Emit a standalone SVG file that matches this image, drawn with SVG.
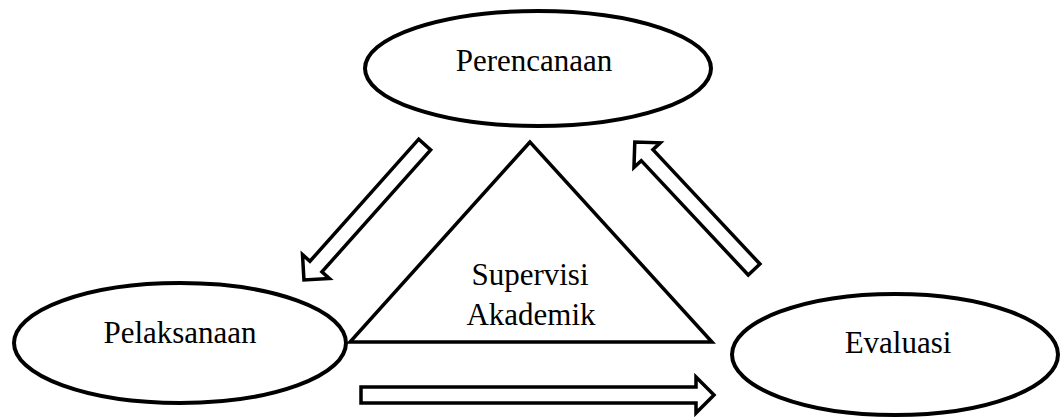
<svg xmlns="http://www.w3.org/2000/svg" width="1062" height="419" viewBox="0 0 1062 419">
<style>
.shape{fill:#fff;stroke:#000;stroke-width:4}
.tri{fill:none;stroke:#000;stroke-width:3.5;stroke-linejoin:miter}
.arr{fill:#fff;stroke:#000;stroke-width:3.5;stroke-linejoin:miter;stroke-miterlimit:10}
.lbl{font-family:"Liberation Serif","Times New Roman",serif;font-size:31px;fill:#000;text-anchor:middle}
</style>
<rect width="1062" height="419" fill="#fff"/>
<g id="supervisi-akademik">
<polygon class="tri" points="530,142 350,342 712,342"/>
<text class="lbl" x="530" y="285">Supervisi</text>
<text class="lbl" x="531" y="325">Akademik</text>
</g>
<g id="perencanaan">
<ellipse class="shape" cx="538" cy="68.5" rx="173" ry="57.5"/>
<text class="lbl" x="534" y="71">Perencanaan</text>
</g>
<g id="pelaksanaan">
<ellipse class="shape" cx="180" cy="343" rx="166" ry="60"/>
<text class="lbl" x="180" y="343">Pelaksanaan</text>
</g>
<g id="evaluasi">
<ellipse class="shape" cx="895" cy="354.5" rx="163" ry="60.5"/>
<text class="lbl" x="898" y="353">Evaluasi</text>
</g>
<g id="connectors">
<path class="arr" transform="translate(424.7,144.5) rotate(131.7)" d="M0,-8 L163.5,-8 L163.5,-18 L181.5,0 L163.5,18 L163.5,8 L0,8 Z"/>
<path class="arr" transform="translate(754.1,269.5) rotate(226.9)" d="M0,-8 L156.6,-8 L156.6,-18 L174.6,0 L156.6,18 L156.6,8 L0,8 Z"/>
<path class="arr" transform="translate(361,395)" d="M0,-8 L335,-8 L335,-18 L353,0 L335,18 L335,8 L0,8 Z"/>
</g>
</svg>
